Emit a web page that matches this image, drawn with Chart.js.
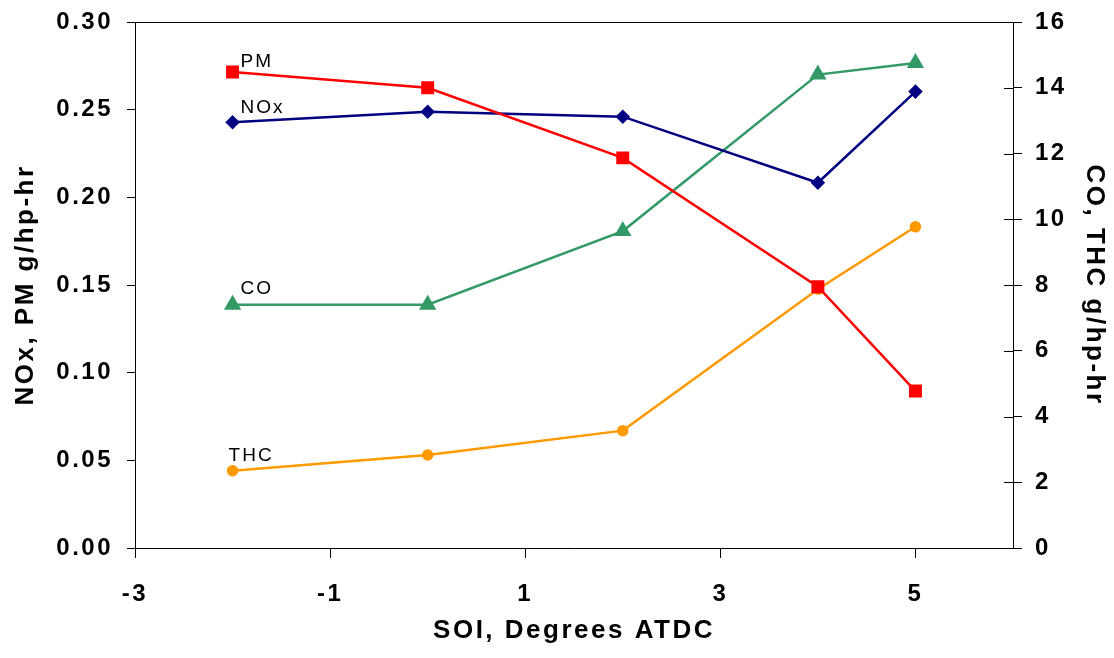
<!DOCTYPE html>
<html>
<head>
<meta charset="utf-8">
<script src="https://cdn.jsdelivr.net/npm/chart.js@4.4.1/dist/chart.umd.min.js"></script>
<style>
  html, body { margin: 0; padding: 0; background: #fff; }
  canvas { display: block; }
</style>
</head>
<body>
<canvas id="soiChart" width="1114" height="658"></canvas>
<script>
// SOI values (degrees ATDC)
const soi = [-2, 0, 2, 4, 5];
const xTicks = [-3, -1, 1, 3, 5];

// left axis (g/hp-hr)
const pm = [0.2715, 0.2625, 0.2225, 0.149, 0.0895];
const nox = [0.2428, 0.2488, 0.246, 0.2083, 0.2603];

// right axis (g/hp-hr)
const co = [7.4, 7.4, 9.64, 14.4, 14.75];
const thc = [2.35, 2.83, 3.57, 7.87, 9.77];

const seriesNames = ["PM", "NOx", "CO", "THC"];

const toPoints = vals => vals.map((v, i) => ({ x: soi[i], y: v }));

// labels beside the first point of each line, plus outer border bits
const extras = {
  id: "extras",
  beforeDraw(chart) {
    chart.ctx.letterSpacing = "2.5px";
  },
  afterDraw(chart) {
    const ctx = chart.ctx;
    const area = chart.chartArea;
    const right = chart.scales.y2;

    ctx.save();
    ctx.letterSpacing = "0px";
    ctx.strokeStyle = "#000";
    ctx.lineWidth = 1;
    ctx.beginPath();
    ctx.moveTo(area.left, area.top + 0.5);
    ctx.lineTo(area.right, area.top + 0.5);
    // right axis ticks also cross inward
    right.ticks.forEach(t => {
      const y = Math.round(right.getPixelForValue(t.value)) + 0.5;
      ctx.moveTo(area.right - 9, y);
      ctx.lineTo(area.right, y);
    });
    ctx.stroke();

    ctx.font = '19px "Liberation Sans", Arial, sans-serif';
    ctx.letterSpacing = "2px";
    ctx.fillStyle = "#000";
    ctx.textBaseline = "middle";
    const offsets = [[8, -10], [8, -15], [8, -16], [-4, -15]];
    chart.data.datasets.forEach((ds, i) => {
      const pt = chart.getDatasetMeta(i).data[0];
      ctx.fillText(seriesNames[i], pt.x + offsets[i][0], pt.y + offsets[i][1]);
    });
    ctx.restore();
  }
};

const tickFont = { family: '"Liberation Sans", Arial, sans-serif', size: 24, weight: "bold" };
const titleFont = { family: '"Liberation Sans", Arial, sans-serif', size: 26, weight: "bold" };

const fixWidth = w => scale => {
  scale.width = w;
  scale.paddingTop = 0;
  scale.paddingBottom = 0;
};

new Chart(document.getElementById("soiChart").getContext("2d"), {
  type: "line",
  data: {
    datasets: [
      {
        label: "PM", data: toPoints(pm), yAxisID: "y",
        borderColor: "#ff0000", backgroundColor: "#ff0000",
        pointStyle: "rect", pointRadius: 7.4, borderWidth: 2.5
      },
      {
        label: "NOx", data: toPoints(nox), yAxisID: "y",
        borderColor: "#000080", backgroundColor: "#000080",
        pointStyle: "rectRot", pointRadius: 5.5, borderWidth: 2.5
      },
      {
        label: "CO", data: toPoints(co), yAxisID: "y2",
        borderColor: "#339966", backgroundColor: "#339966",
        pointStyle: "triangle", pointRadius: 7.5, borderWidth: 2.5
      },
      {
        label: "THC", data: toPoints(thc), yAxisID: "y2",
        borderColor: "#ff9900", backgroundColor: "#ff9900",
        pointStyle: "circle", pointRadius: 4.5, borderWidth: 2.5
      }
    ]
  },
  options: {
    responsive: false,
    animation: false,
    layout: { padding: { top: 22, left: 0, right: 0, bottom: 0 } },
    plugins: {
      legend: { display: false },
      tooltip: { enabled: false }
    },
    elements: {
      line: { tension: 0 },
      point: { borderWidth: 1, hoverRadius: 0 }
    },
    scales: {
      x: {
        type: "linear",
        min: -3,
        max: 6,
        afterBuildTicks: scale => { scale.ticks = xTicks.map(v => ({ value: v })); },
        afterFit: scale => {
          scale.height = 110;
          scale.paddingLeft = 0;
          scale.paddingRight = 0;
        },
        grid: { drawOnChartArea: false, drawTicks: true, tickLength: 10, color: "#000" },
        border: { display: true, color: "#000", width: 1 },
        ticks: { color: "#000", font: tickFont, padding: 22, maxRotation: 0 },
        title: {
          display: true, text: "SOI, Degrees ATDC", color: "#000",
          font: titleFont, padding: { top: 0, bottom: 12 }
        }
      },
      y: {
        position: "left",
        min: 0,
        max: 0.30,
        afterFit: fixWidth(135),
        grid: { drawOnChartArea: false, drawTicks: true, tickLength: 8, color: "#000" },
        border: { display: true, color: "#000", width: 1 },
        ticks: {
          stepSize: 0.05, color: "#000", font: tickFont, padding: 14,
          callback: v => v.toFixed(2)
        },
        title: {
          display: true, text: "NOx, PM g/hp-hr", color: "#000",
          font: titleFont, padding: { top: 10, bottom: 0 }
        }
      },
      y2: {
        position: "right",
        min: 0,
        max: 16,
        afterFit: fixWidth(101),
        grid: { drawOnChartArea: false, drawTicks: true, tickLength: 9, color: "#000" },
        border: { display: true, color: "#000", width: 1 },
        ticks: { stepSize: 2, color: "#000", font: tickFont, padding: 13 },
        title: {
          display: true, text: "CO, THC g/hp-hr", color: "#000",
          font: titleFont, padding: { top: 4, bottom: 0 }
        }
      }
    }
  },
  plugins: [extras]
});
</script>
</body>
</html>
